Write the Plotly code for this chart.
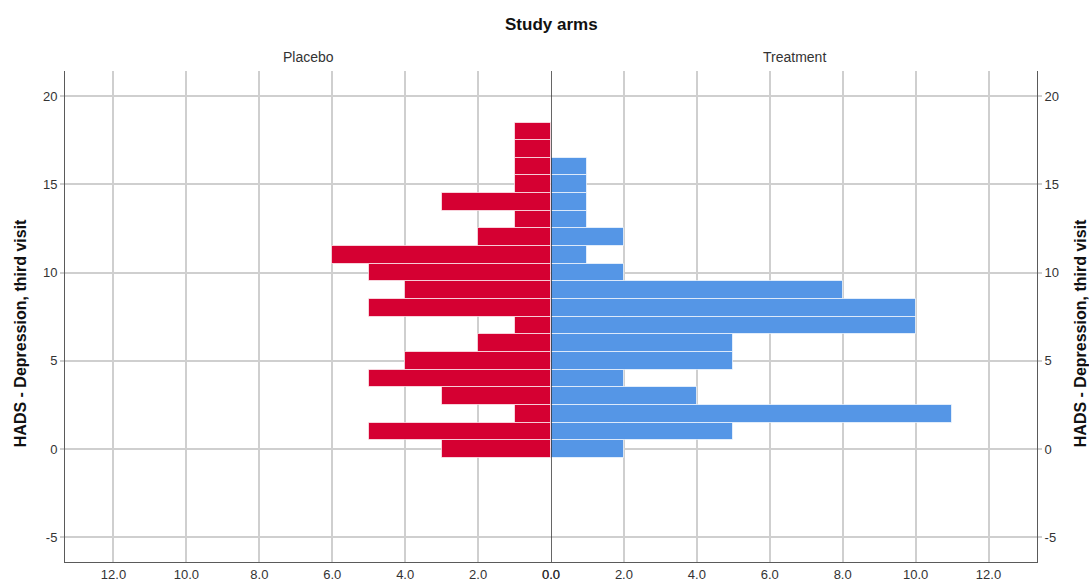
import plotly.graph_objects as go

# ---- data ----
scores = list(range(0, 19))
placebo = [3, 5, 1, 3, 5, 4, 2, 1, 5, 4, 5, 6, 2, 1, 3, 1, 1, 1, 1]
treatment = [2, 5, 11, 4, 2, 5, 5, 10, 10, 8, 2, 1, 2, 1, 1, 1, 1, 0, 0]
arm_names = ["Placebo", "Treatment"]
x_ticks = [0, 2, 4, 6, 8, 10, 12]
x_tick_labels = ["0.0", "2.0", "4.0", "6.0", "8.0", "10.0", "12.0"]
y_ticks = [-5, 0, 5, 10, 15, 20]
y_tick_labels = ["-5", "0", "5", "10", "15", "20"]
title_text = "Study arms"
y_title = "HADS - Depression, third visit"

RED = "#D50032"
BLUE = "#5596E6"
FONT = "Arial, Liberation Sans, sans-serif"
GRID = "#CFCFCF"
LINE = "#5a5a5a"

fig = go.Figure()
fig.add_trace(go.Bar(
    y=scores, x=placebo, orientation="h", width=1,
    marker=dict(color=RED, line=dict(color="rgba(255,255,255,0.65)", width=1)),
    xaxis="x", yaxis="y", name=arm_names[0], showlegend=False,
))
fig.add_trace(go.Bar(
    y=scores, x=treatment, orientation="h", width=1,
    marker=dict(color=BLUE, line=dict(color="rgba(255,255,255,0.65)", width=1)),
    xaxis="x2", yaxis="y2", name=arm_names[1], showlegend=False,
))

xmax = 13.33
yrange = [-6.4, 21.42]
tickfont = dict(family=FONT, size=13, color="#333333")

common_x = dict(
    tickvals=x_ticks, ticktext=x_tick_labels, showgrid=True, gridcolor=GRID, gridwidth=1.5,
    showline=True, linecolor=LINE, linewidth=1, zeroline=False, ticks="",
    tickfont=tickfont, automargin=False, fixedrange=True,
)
common_y = dict(
    range=yrange, tickvals=y_ticks, ticktext=y_tick_labels, showgrid=True, gridcolor=GRID,
    gridwidth=1.5, showline=True, linecolor=LINE, linewidth=1, zeroline=False,
    ticks="outside", ticklen=4, tickcolor=GRID, tickwidth=1.5,
    tickfont=tickfont, automargin=False, domain=[0, 1],
)

fig.update_layout(
    width=1089, height=581,
    margin=dict(l=65, r=52, t=71, b=19),
    plot_bgcolor="white", paper_bgcolor="white",
    font=dict(family=FONT, color="#222222"),
    bargap=0,
    xaxis=dict(domain=[0, 0.5], range=[xmax, 0], anchor="y", **common_x),
    xaxis2=dict(domain=[0.5, 1], range=[0, xmax], anchor="y2", **common_x),
    yaxis=dict(anchor="x", side="left", **common_y),
    yaxis2=dict(anchor="x2", side="right", **common_y),
    shapes=[dict(type="line", xref="x2", x0=0, x1=0, yref="paper", y0=0, y1=1,
                 line=dict(color="#333333", width=1.5), layer="above")],
    annotations=[
        dict(text=f"<b>{title_text}</b>", xref="paper", yref="paper", x=0.5, y=1.0957,
             showarrow=False, xanchor="center", yanchor="middle",
             font=dict(family=FONT, size=17, color="#111111")),
        dict(text=arm_names[0], xref="paper", yref="paper", x=0.25, y=1.0285,
             showarrow=False, xanchor="center", yanchor="middle",
             font=dict(family=FONT, size=14, color="#333333")),
        dict(text=arm_names[1], xref="paper", yref="paper", x=0.75, y=1.0285,
             showarrow=False, xanchor="center", yanchor="middle",
             font=dict(family=FONT, size=14, color="#333333")),
        dict(text=f"<b>{y_title}</b>", xref="paper", yref="paper", x=(20 - 65) / 972, y=0.466,
             showarrow=False, xanchor="center", yanchor="middle", textangle=-90,
             font=dict(family=FONT, size=16, color="#111111")),
        dict(text=f"<b>{y_title}</b>", xref="paper", yref="paper", x=(1080 - 65) / 972, y=0.466,
             showarrow=False, xanchor="center", yanchor="middle", textangle=-90,
             font=dict(family=FONT, size=16, color="#111111")),
    ],
)

fig.write_html(
    "out.html",
    config={"displayModeBar": False},
    post_script="document.body.style.margin='0';document.body.style.overflow='hidden';",
)
